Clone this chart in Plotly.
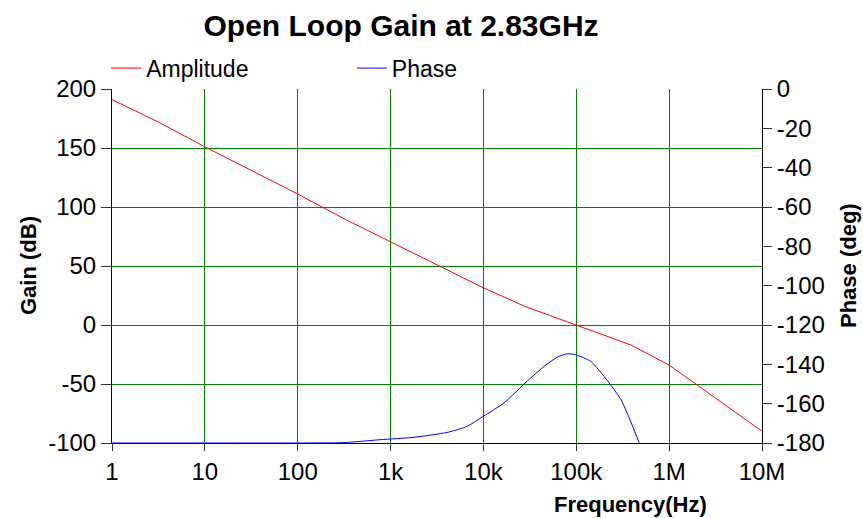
import plotly.graph_objects as go

# Amplitude (dB) vs frequency (Hz)
amp_freq = [1, 3.16, 10, 31.6, 100, 316, 1e3, 3.16e3, 1e4, 2.75e4, 1e5, 1.78e5, 3.16e5, 3.89e5, 1e6, 3.16e6, 1e7]
amp_gain = [191, 172, 151, 131, 111, 90, 70.5, 50.5, 31.5, 16, 0, -7, -14, -17, -34, -62, -90]

# Phase (deg) vs frequency (Hz)
ph_freq = [1, 10, 100, 316, 780, 1.78e3, 4.09e3, 6.7e3, 1e4, 1.67e4, 2.74e4, 4.5e4, 6.28e4, 8.05e4,
           1e5, 1.43e5, 1.92e5, 3.03e5, 4.77e5]
ph_deg = [-180, -180, -180, -179.8, -178.3, -177.1, -174.6, -171.5, -166.4, -159.6, -150, -141, -136.3,
          -134.6, -135.2, -138.5, -145.2, -158, -180]

x_tickvals = [1, 10, 100, 1e3, 1e4, 1e5, 1e6, 1e7]
x_ticktext = ["1", "10", "100", "1k", "10k", "100k", "1M", "10M"]
gain_ticks = [-100, -50, 0, 50, 100, 150, 200]
phase_ticks = [-180, -160, -140, -120, -100, -80, -60, -40, -20, 0]

FONT = "Liberation Sans, Arial, sans-serif"

fig = go.Figure()
fig.add_trace(go.Scatter(x=amp_freq, y=amp_gain, mode="lines", name="Amplitude",
                         line=dict(color="#ff0000", width=1), legend="legend"))
fig.add_trace(go.Scatter(x=ph_freq, y=ph_deg, mode="lines", name="Phase",
                         line=dict(color="#0000ff", width=1, shape="spline", smoothing=0.6),
                         yaxis="y2", legend="legend2"))

axis_font = dict(family=FONT, size=24, color="black")

fig.update_layout(
    width=863, height=518,
    margin=dict(l=112, r=101, t=89, b=75),
    paper_bgcolor="white", plot_bgcolor="white",
    showlegend=True,
    font=dict(family=FONT, color="black"),
    title=dict(text="<b>Open Loop Gain at 2.83GHz</b>", x=0.4647, xanchor="center",
               y=0.95, yanchor="middle", font=dict(family=FONT, size=30, color="black")),
    xaxis=dict(type="log", range=[0, 7], tickvals=x_tickvals, ticktext=x_ticktext,
               showgrid=True, gridcolor="#008000", gridwidth=1,
               showline=True, linecolor="black", linewidth=1,
               ticks="outside", ticklen=7, tickcolor="#333", tickfont=axis_font, zeroline=False),
    yaxis=dict(range=[-100, 200], tickvals=gain_ticks, ticktext=[str(v) for v in gain_ticks],
               showgrid=True, gridcolor="#008000", gridwidth=1,
               showline=True, linecolor="black", linewidth=1,
               ticks="outside", ticklen=10, tickcolor="#333", tickfont=axis_font, zeroline=False),
    yaxis2=dict(range=[-180, 0], tickvals=phase_ticks, ticktext=[str(v) for v in phase_ticks],
                overlaying="y", side="right", showgrid=False,
                showline=True, linecolor="black", linewidth=1,
                ticks="outside", ticklen=9, tickcolor="#333", tickfont=axis_font, zeroline=False),
    legend=dict(orientation="h", x=-0.009, xanchor="left", y=1.059, yanchor="middle",
                font=dict(family=FONT, size=23, color="black"), bgcolor="rgba(0,0,0,0)"),
    legend2=dict(orientation="h", x=0.369, xanchor="left", y=1.059, yanchor="middle",
                 font=dict(family=FONT, size=23, color="black"), bgcolor="rgba(0,0,0,0)"),
    annotations=[
        dict(text="<b>Frequency(Hz)</b>", xref="paper", yref="paper", x=0.797, y=0,
             xanchor="center", yanchor="middle", yshift=-61, showarrow=False,
             font=dict(family=FONT, size=22, color="black")),
        dict(text="<b>Gain (dB)</b>", xref="paper", yref="paper", x=0, y=0.5,
             xanchor="center", yanchor="middle", xshift=-84, textangle=-90, showarrow=False,
             font=dict(family=FONT, size=22, color="black")),
        dict(text="<b>Phase (deg)</b>", xref="paper", yref="paper", x=1, y=0.5,
             xanchor="center", yanchor="middle", xshift=86, textangle=-90, showarrow=False,
             font=dict(family=FONT, size=22, color="black")),
    ],
)

fig.write_html("out.html", config={"displayModeBar": False},
               post_script="document.body.style.margin='0';document.body.style.overflow='hidden';")
